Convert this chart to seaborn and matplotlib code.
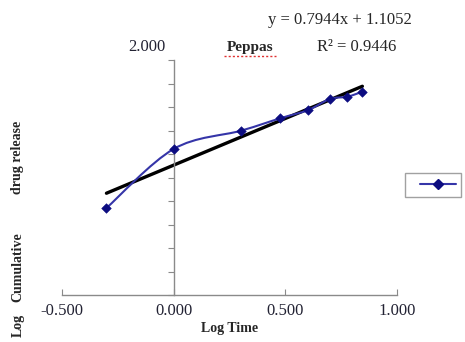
import numpy as np
import matplotlib
matplotlib.use("Agg")
import matplotlib.pyplot as plt
from matplotlib.path import Path
from matplotlib.patches import PathPatch
from matplotlib.lines import Line2D
import seaborn as sns

# values
log_time = [-0.301, 0.000, 0.301, 0.477, 0.602, 0.699, 0.778, 0.845]
log_release = [0.74, 1.243, 1.398, 1.504, 1.574, 1.668, 1.688, 1.73]
slope, intercept = 0.7944, 1.1052
r2 = 0.9446
x_ticks = [-0.5, 0.0, 0.5, 1.0]
y_ticks = [0.0, 0.2, 0.4, 0.6, 0.8, 1.0, 1.2, 1.4, 1.6, 1.8, 2.0]

sns.set_style("white")
plt.rcParams['font.family'] = ['Liberation Serif', 'DejaVu Serif']

fig = plt.figure(figsize=(4.65, 3.42), dpi=100)
ax = fig.add_axes([62/465, 47/342, 335/465, 235/342])

navy = "#0c0c80"
line_blue = "#3535a8"

# smoothed line (Excel style) through the points
pts = np.column_stack([log_time, log_release])
verts = [tuple(pts[0])]
codes = [Path.MOVETO]
n = len(pts)
for i in range(n - 1):
    p0 = pts[max(i - 1, 0)]
    p1 = pts[i]
    p2 = pts[i + 1]
    p3 = pts[min(i + 2, n - 1)]
    c1 = p1 + (p2 - p0) / 6
    c2 = p2 - (p3 - p1) / 6
    verts += [tuple(c1), tuple(c2), tuple(p2)]
    codes += [Path.CURVE4] * 3
ax.add_patch(PathPatch(Path(verts, codes), facecolor="none", edgecolor=line_blue, lw=1.5, zorder=3))

sns.scatterplot(x=log_time, y=log_release, marker="D", s=24, color=navy,
                edgecolor=navy, ax=ax, zorder=4)

# linear trendline
tx = np.array([min(log_time), max(log_time)])
sns.lineplot(x=tx, y=slope * tx + intercept, color="black", lw=2.4, ax=ax, zorder=2)

ax.set_xlim(-0.5, 1.0)
ax.set_ylim(0, 2.0)
ax.set_xticks(x_ticks)
ax.set_xticklabels([f"{v:.3f}" for v in x_ticks], fontsize=12, color="#222233")
ax.set_yticks(y_ticks)
ax.set_yticklabels([])

for s in ["top", "right"]:
    ax.spines[s].set_visible(False)
ax.spines["left"].set_position(("data", 0))
for s in ["left", "bottom"]:
    ax.spines[s].set_color("#8a8a8a")
    ax.spines[s].set_linewidth(1.0)
ax.tick_params(axis="x", direction="in", length=4, color="#8a8a8a", pad=6, bottom=True)
ax.tick_params(axis="y", direction="out", length=4, color="#8a8a8a", left=True)

ax.text(-0.12, 2.11, "2.000", ha="center", va="center", fontsize=12, color="#222233", clip_on=False)
fig.text(250/465, 1 - 47/342, "Peppas", ha="center", va="center", fontsize=11, fontweight="bold")
# spell-check underline under the title
fig.add_artist(Line2D([224/465, 276/465], [1 - 56/342, 1 - 56/342], color="#e03030",
                      lw=1.0, ls=(0, (1.5, 1.5))))
fig.text(340/465, 1 - 20/342, f"y = {slope}x + {intercept}", ha="center", va="center", fontsize=12)
fig.text(357/465, 1 - 47/342, f"R² = {r2}", ha="center", va="center", fontsize=12)

ax.set_xlabel("Log Time", fontsize=10, fontweight="bold", labelpad=2)
for word, yc in [("Log", 325), ("Cumulative", 267), ("drug release", 157)]:
    fig.text(18/465, 1 - yc/342, word, rotation=90, ha="center", va="center",
             fontsize=10, fontweight="bold")

handle = Line2D([], [], color=line_blue, lw=1.5, marker="D", markersize=5,
                markerfacecolor=navy, markeredgecolor=navy)
leg = fig.legend([handle], [" "], loc="center left", bbox_to_anchor=(398/465, 1 - 185/342),
                 frameon=True, fancybox=False, markerfirst=False, handlelength=2.6,
                 handletextpad=0.4, borderpad=0.4, fontsize=10)
leg.get_frame().set_edgecolor("#8a8a8a")
leg.get_frame().set_linewidth(1.0)

fig.savefig("out.png", dpi=100)
